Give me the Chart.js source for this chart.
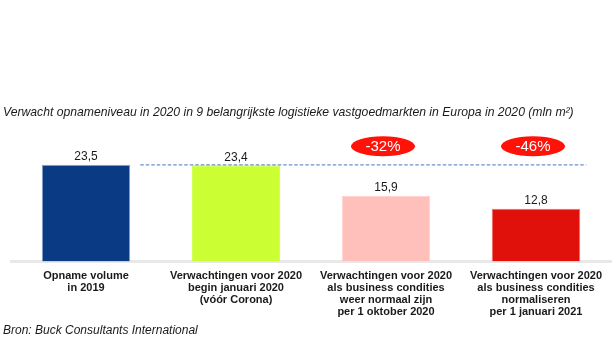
<!DOCTYPE html>
<html>
<head>
<meta charset="utf-8">
<script src="https://cdn.jsdelivr.net/npm/chart.js@4.4.1/dist/chart.umd.min.js"></script>
<style>
  html, body { margin: 0; padding: 0; background: #fff; }
  #wrap { position: relative; width: 615px; height: 346px; overflow: hidden; }
  #chart { position: absolute; left: 0; top: 0; }
  .note {
    position: absolute; left: 3px; margin: 0;
    font-family: "Liberation Sans", Arial, sans-serif; font-style: italic;
    font-size: 12px; color: #1a1a1a; white-space: nowrap;
  }
  #title { top: 105px; font-size: 12.2px; }
  #source { top: 323px; }
</style>
</head>
<body>
<div id="wrap">
  <canvas id="chart" width="615" height="346"></canvas>
  <p class="note" id="title">Verwacht opnameniveau in 2020 in 9 belangrijkste logistieke vastgoedmarkten in Europa in 2020 (mln m²)</p>
  <p class="note" id="source">Bron: Buck Consultants International</p>
</div>
<script>
// --- Data ---
const categories = [
    ['Opname volume', 'in 2019'],
    ['Verwachtingen voor 2020', 'begin januari 2020', '(vóór Corona)'],
    ['Verwachtingen voor 2020', 'als business condities', 'weer normaal zijn', 'per 1 oktober 2020'],
    ['Verwachtingen voor 2020', 'als business condities', 'normaliseren', 'per 1 januari 2021']
];
const volumes = [23.5, 23.4, 15.9, 12.8];
const barColors = ['#0b3a84', '#ccff33', '#ffbfba', '#e0100a'];
const barBorders = ['#8fa6d0', '#ccff33', '#ffd3cf', '#f06a66'];
// Change badges above the last two bars (null = no badge)
const changeLabels = [null, null, '-32%', '-46%'];
const badgeLevel = 28;
const yMax = 30;

const fmt = v => v.toFixed(1).replace('.', ',');

// Value labels, reference dashed line and red change badges
const overlayPlugin = {
    id: 'overlay',
    afterDatasetsDraw(chart) {
        const ctx = chart.ctx;
        const meta = chart.getDatasetMeta(0);
        const y = chart.scales.y;
        const bars = meta.data;

        ctx.save();

        // dashed line at the 2019 level
        const first = bars[0], last = bars[bars.length - 1];
        const lineY = y.getPixelForValue(volumes[0]);
        ctx.strokeStyle = '#6f8fc7';
        ctx.lineWidth = 1.3;
        ctx.setLineDash([3.5, 2]);
        ctx.beginPath();
        ctx.moveTo(first.x + first.width / 2 + 10, lineY);
        ctx.lineTo(last.x + last.width / 2 + 6, lineY);
        ctx.stroke();
        ctx.setLineDash([]);

        // values above the bars
        ctx.fillStyle = '#1a1a1a';
        ctx.font = '12px "Liberation Sans", Arial, sans-serif';
        ctx.textAlign = 'center';
        ctx.textBaseline = 'bottom';
        bars.forEach((bar, i) => {
            ctx.fillText(fmt(volumes[i]), bar.x, bar.y - 2);
        });

        // badges
        const by = y.getPixelForValue(badgeLevel);
        changeLabels.forEach((txt, i) => {
            if (!txt) return;
            const bx = bars[i].x - 3;
            ctx.fillStyle = '#ff1208';
            ctx.beginPath();
            ctx.ellipse(bx, by, 32, 10, 0, 0, Math.PI * 2);
            ctx.fill();
            ctx.fillStyle = '#ffffff';
            ctx.font = '15px "Liberation Sans", Arial, sans-serif';
            ctx.textBaseline = 'middle';
            ctx.fillText(txt, bx, by + 1);
        });

        ctx.restore();
    }
};

new Chart(document.getElementById('chart'), {
    type: 'bar',
    data: {
        labels: categories,
        datasets: [{
            data: volumes,
            backgroundColor: barColors,
            borderColor: barBorders,
            borderWidth: 1,
            categoryPercentage: 1,
            barPercentage: 0.59
        }]
    },
    options: {
        responsive: false,
        animation: false,
        layout: { padding: { left: 11, right: 4, top: 138, bottom: 28 } },
        plugins: {
            legend: { display: false },
            tooltip: { enabled: false }
        },
        scales: {
            y: { display: false, min: 0, max: yMax },
            x: {
                grid: { display: false },
                border: { display: true, color: '#e8e8e8', width: 3 },
                ticks: {
                    color: '#1a1a1a',
                    padding: 0,
                    maxRotation: 0,
                    autoSkip: false,
                    font: { family: '"Liberation Sans", Arial, sans-serif', size: 11, weight: 'bold', lineHeight: 1.1 }
                }
            }
        }
    },
    plugins: [overlayPlugin]
});
</script>
</body>
</html>
